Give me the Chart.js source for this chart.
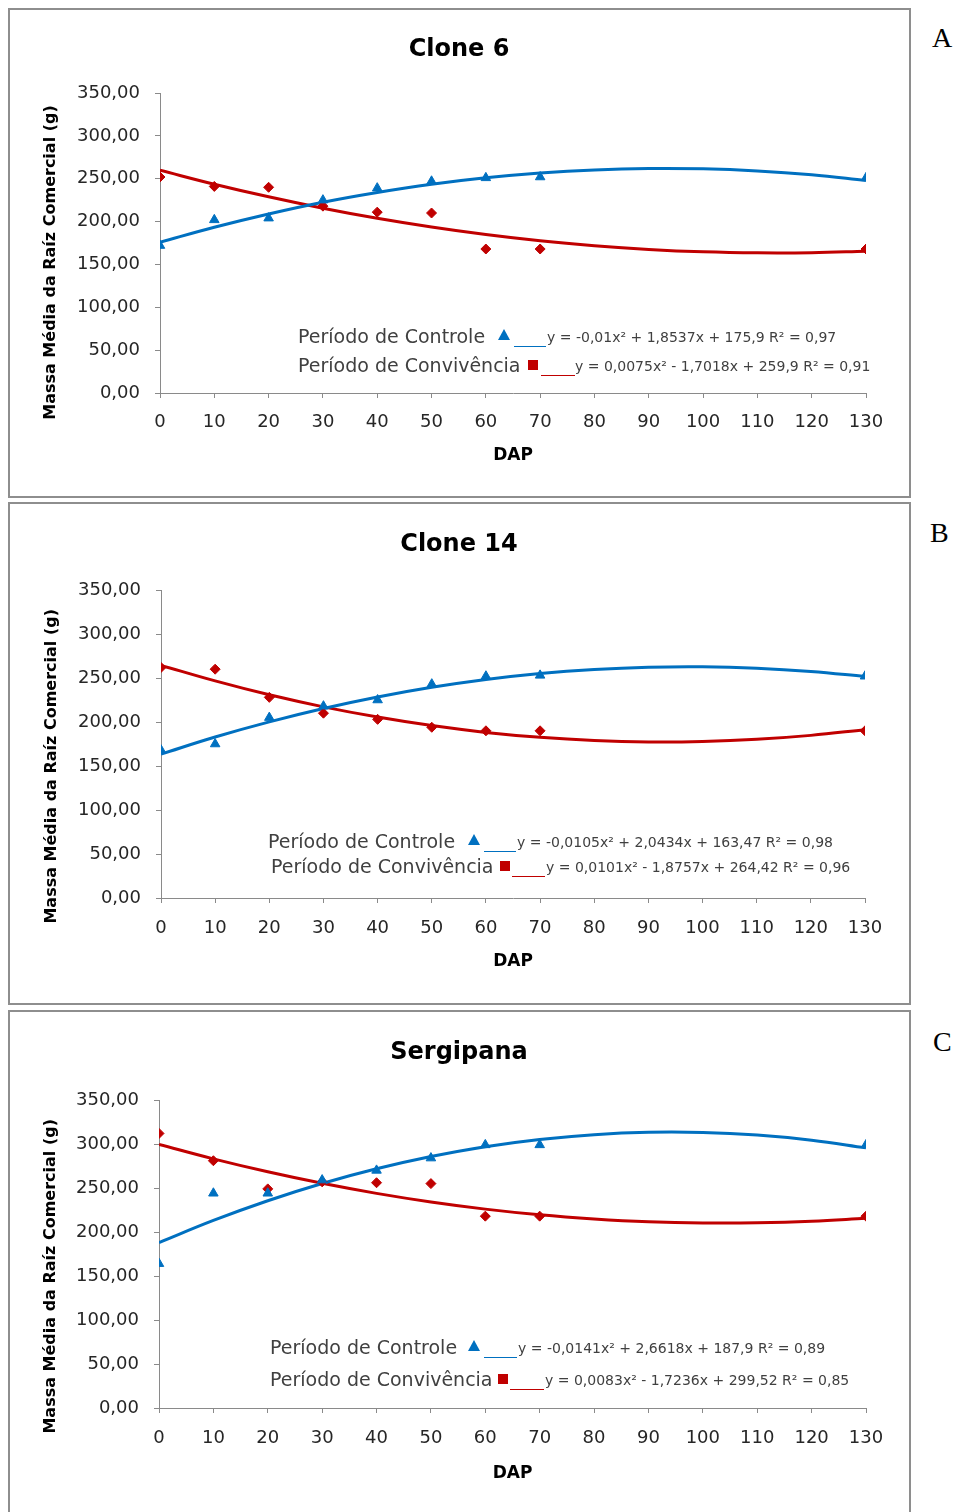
<!DOCTYPE html>
<html><head><meta charset="utf-8">
<script src="https://cdn.jsdelivr.net/npm/chart.js@4"></script>
<style>
body{margin:0;width:959px;height:1512px;background:#fff;position:relative;overflow:hidden;font-family:'DejaVu Sans',sans-serif;}
.box{position:absolute;border:2px solid #8e8e8e;box-sizing:border-box;}
canvas{position:absolute;}
.t{position:absolute;white-space:nowrap;color:#404040;line-height:20px;height:20px;}
.lab{font-size:19px;}
.eq{font-size:14px;}
.tri{position:absolute;width:0;height:0;border-left:6px solid transparent;border-right:6px solid transparent;border-bottom:11px solid rgb(0,112,192);}
.sq{position:absolute;width:10px;height:10px;background:rgb(192,0,0);}
.ul{position:absolute;height:0;border-top:1px solid;}
.letter{position:absolute;font-family:'Liberation Serif',serif;font-size:28px;color:#000;line-height:30px;}
</style></head>
<body>
<div class="box" style="left:8px;top:8px;width:903px;height:490px"></div>
<div class="box" style="left:8px;top:502px;width:903px;height:503px"></div>
<div class="box" style="left:8px;top:1010px;width:903px;height:510px"></div>
<canvas id="cA" width="898" height="486" style="left:10px;top:10px"></canvas>
<canvas id="cB" width="898" height="499" style="left:10px;top:504px"></canvas>
<canvas id="cC" width="898" height="500" style="left:10px;top:1012px"></canvas>

<div class="letter" style="left:932px;top:23px">A</div>
<div class="letter" style="left:930px;top:518px">B</div>
<div class="letter" style="left:933px;top:1027px">C</div>

<!-- legend A -->
<div class="t lab" style="left:298px;top:326px">Período de Controle</div>
<div class="tri" style="left:498px;top:329px"></div>
<div class="ul" style="left:514px;width:32px;top:346px;border-color:rgb(0,112,192)"></div>
<div class="t eq" style="left:547px;top:327px">y = -0,01x² + 1,8537x + 175,9 R² = 0,97</div>
<div class="t lab" style="left:298px;top:355px">Período de Convivência</div>
<div class="sq" style="left:528px;top:360px"></div>
<div class="ul" style="left:541px;width:34px;top:375px;border-color:rgb(192,0,0)"></div>
<div class="t eq" style="left:575px;top:356px">y = 0,0075x² - 1,7018x + 259,9 R² = 0,91</div>

<!-- legend B -->
<div class="t lab" style="left:268px;top:831px">Período de Controle</div>
<div class="tri" style="left:468px;top:834px"></div>
<div class="ul" style="left:484px;width:32px;top:851px;border-color:rgb(0,112,192)"></div>
<div class="t eq" style="left:517px;top:832px">y = -0,0105x² + 2,0434x + 163,47 R² = 0,98</div>
<div class="t lab" style="left:271px;top:856px">Período de Convivência</div>
<div class="sq" style="left:500px;top:861px"></div>
<div class="ul" style="left:512px;width:33px;top:876px;border-color:rgb(192,0,0)"></div>
<div class="t eq" style="left:546px;top:857px">y = 0,0101x² - 1,8757x + 264,42 R² = 0,96</div>

<!-- legend C -->
<div class="t lab" style="left:270px;top:1337px">Período de Controle</div>
<div class="tri" style="left:468px;top:1340px"></div>
<div class="ul" style="left:484px;width:33px;top:1357px;border-color:rgb(0,112,192)"></div>
<div class="t eq" style="left:518px;top:1338px">y = -0,0141x² + 2,6618x + 187,9 R² = 0,89</div>
<div class="t lab" style="left:270px;top:1369px">Período de Convivência</div>
<div class="sq" style="left:498px;top:1374px"></div>
<div class="ul" style="left:510px;width:34px;top:1389px;border-color:rgb(192,0,0)"></div>
<div class="t eq" style="left:545px;top:1370px">y = 0,0083x² - 1,7236x + 299,52 R² = 0,85</div>

<script>
// ---- data ----
const dap = [0, 10, 20, 30, 40, 50, 60, 70, 130];
const trendDap = [0, 10, 20, 30, 40, 50, 60, 70, 80, 90, 100, 110, 120, 130];
const xTicks = [0, 10, 20, 30, 40, 50, 60, 70, 80, 90, 100, 110, 120, 130];
const yTicks = [0, 50, 100, 150, 200, 250, 300, 350];

const clone6Controle    = [172, 202, 204, 225, 239, 247, 251, 252, 251];
const clone6Convivencia = [252, 241, 240, 218, 211, 210, 168, 168, 168];
const clone6ControleFit    = [175.9, 193.4, 208.9, 222.6, 234.0, 243.6, 251.1, 256.7, 260.3, 261.9, 261.5, 259.0, 254.5, 247.9];
const clone6ConvivenciaFit = [259.9, 243.6, 228.9, 215.6, 203.8, 193.6, 184.8, 177.5, 171.8, 167.5, 164.7, 163.5, 163.7, 165.4];

const clone14Controle    = [168, 175, 205, 218, 225, 243, 252, 253, 252];
const clone14Convivencia = [262, 260, 228, 210, 203, 194, 190, 190, 190];
const clone14ControleFit    = [163.5, 182.9, 200.1, 215.3, 228.4, 239.4, 248.3, 255.1, 259.7, 262.3, 262.8, 261.2, 257.5, 251.7];
const clone14ConvivenciaFit = [264.4, 246.7, 230.9, 217.2, 205.6, 195.9, 188.2, 182.6, 179.0, 177.4, 177.9, 180.3, 184.8, 191.3];

const sergipanaControle    = [164, 244, 244, 259, 270, 284, 299, 299, 299];
const sergipanaConvivencia = [312, 281, 249, 257, 256, 255, 218, 218, 218];
const sergipanaControleFit    = [187.9, 213.1, 235.5, 255.1, 271.8, 285.7, 296.9, 305.1, 310.6, 313.3, 313.1, 310.1, 304.3, 295.6];
const sergipanaConvivenciaFit = [299.5, 283.1, 268.4, 255.3, 243.9, 234.1, 226.0, 219.5, 214.8, 211.6, 210.2, 210.4, 212.2, 215.7];

const titles = ['Clone 6', 'Clone 14', 'Sergipana'];
const yTitle = 'Massa Média da Raíz Comercial (g)';
const xTitle = 'DAP';

// ---- drawing ----
const BLUE = 'rgb(0,112,192)', RED = 'rgb(192,0,0)', AXIS = '#8a8a8a', TXT = '#262626';
const pts = (xs, ys) => xs.map((x, i) => ({x: x, y: ys[i]}));

function panel(id, title, ctrl, conv, ctrlFit, convFit, g) {
  new Chart(document.getElementById(id), {
    data: {
      datasets: [
        {type: 'scatter', label: 'Período de Controle', data: pts(dap, ctrl), pointStyle: 'triangle', pointRadius: 5.5,
         backgroundColor: BLUE, borderColor: BLUE, borderWidth: 1, order: 0},
        {type: 'scatter', label: 'Período de Convivência', data: pts(dap, conv), pointStyle: 'rectRot', pointRadius: 5,
         backgroundColor: RED, borderColor: RED, borderWidth: 1, order: 0},
        {type: 'line', label: 'Tendência Controle', data: pts(trendDap, ctrlFit), borderColor: BLUE, borderWidth: 3,
         pointRadius: 0, tension: 0.4, fill: false, order: 1},
        {type: 'line', label: 'Tendência Convivência', data: pts(trendDap, convFit), borderColor: RED, borderWidth: 3,
         pointRadius: 0, tension: 0.4, fill: false, order: 1}
      ]
    },
    options: {
      responsive: false, animation: false, events: [],
      layout: {padding: 0},
      plugins: {
        legend: {display: false}, tooltip: {enabled: false},
        title: {display: true, text: title, color: '#000',
                font: {family: 'DejaVu Sans', size: 24, weight: 'bold', lineHeight: 1.2},
                padding: {top: g.titleTop, bottom: g.titleBottom}}
      },
      scales: {
        x: {type: 'linear', min: 0, max: 130,
            afterBuildTicks: s => { s.ticks = xTicks.map(v => ({value: v})); },
            afterFit: s => { s.height = g.xH; },
            ticks: {color: TXT, padding: g.xPad, maxRotation: 0, autoSkip: false,
                    font: {family: 'DejaVu Sans', size: 18, lineHeight: 1.2}},
            grid: {display: true, drawOnChartArea: false, drawTicks: true, tickLength: 5, color: AXIS},
            border: {display: true, color: AXIS, width: 1},
            title: {display: true, text: xTitle, color: '#000',
                    font: {family: 'DejaVu Sans', size: 17, weight: 'bold', lineHeight: 1.2},
                    padding: {top: 0, bottom: g.xTitlePad}}},
        y: {type: 'linear', min: 0, max: 350,
            afterBuildTicks: s => { s.ticks = yTicks.map(v => ({value: v})); },
            afterFit: s => { s.width = g.yW; },
            ticks: {color: TXT, padding: 15, callback: v => v.toFixed(2).replace('.', ','),
                    font: {family: 'DejaVu Sans', size: 18, lineHeight: 1.2}},
            grid: {display: true, drawOnChartArea: false, drawTicks: true, tickLength: 5, color: AXIS},
            border: {display: true, color: AXIS, width: 1},
            title: {display: true, text: yTitle + g.ySpaces, color: '#000',
                    font: {family: 'DejaVu Sans', size: 16, weight: 'bold', lineHeight: 1.2},
                    padding: {top: g.yTitlePad, bottom: 0}}},
        yRight: {type: 'linear', position: 'right', display: true, min: 0, max: 350,
            afterFit: s => { s.width = g.padR; },
            ticks: {display: false}, grid: {display: false}, border: {display: false}, title: {display: false}}
      }
    }
  });
}

panel('cA', titles[0], clone6Controle, clone6Convivencia, clone6ControleFit, clone6ConvivenciaFit,
  {padR: 42, titleTop: 25.6, titleBottom: 28.6, xH: 103, xPad: 13.2, xTitlePad: 29.8, yW: 150, yTitlePad: 31, ySpaces: '       '});
panel('cB', titles[1], clone14Controle, clone14Convivencia, clone14ControleFit, clone14ConvivenciaFit,
  {padR: 43, titleTop: 26.6, titleBottom: 30.6, xH: 105, xPad: 14.2, xTitlePad: 30.8, yW: 151, yTitlePad: 32, ySpaces: '        '});
panel('cC', titles[2], sergipanaControle, sergipanaConvivencia, sergipanaControleFit, sergipanaConvivenciaFit,
  {padR: 42, titleTop: 26.6, titleBottom: 32.6, xH: 104, xPad: 14.2, xTitlePad: 27.8, yW: 149, yTitlePad: 31, ySpaces: '        '});
</script>
</body></html>
